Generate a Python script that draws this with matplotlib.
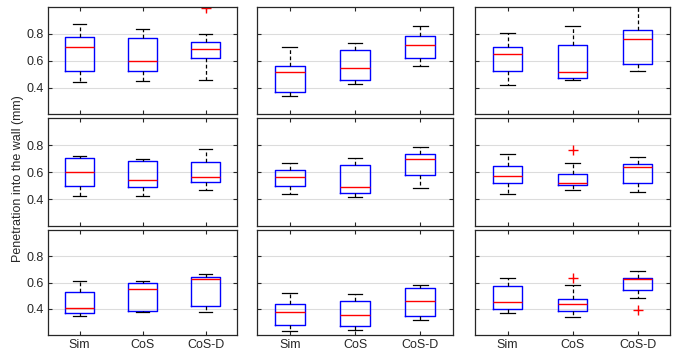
import matplotlib
matplotlib.use('Agg')
import matplotlib.pyplot as plt

plt.rcParams['font.family'] = ['Liberation Sans', 'DejaVu Sans']

groups = ['Sim', 'CoS', 'CoS-D']

# box statistics per panel (row-major): [whislo, q1, med, q3, whishi]
panel_stats = [
    [[0.44, 0.52, 0.70, 0.78, 0.87], [0.45, 0.52, 0.60, 0.77, 0.84], [0.46, 0.62, 0.69, 0.74, 0.80]],
    [[0.34, 0.37, 0.515, 0.56, 0.70], [0.43, 0.46, 0.545, 0.68, 0.735], [0.56, 0.62, 0.72, 0.785, 0.86]],
    [[0.42, 0.525, 0.65, 0.70, 0.805], [0.46, 0.475, 0.515, 0.717, 0.86], [0.525, 0.575, 0.76, 0.83, 1.05]],
    [[0.42, 0.50, 0.60, 0.704, 0.723], [0.42, 0.49, 0.54, 0.684, 0.70], [0.467, 0.53, 0.565, 0.674, 0.773]],
    [[0.44, 0.494, 0.565, 0.617, 0.672], [0.417, 0.447, 0.49, 0.657, 0.709], [0.486, 0.58, 0.70, 0.733, 0.785]],
    [[0.437, 0.518, 0.57, 0.644, 0.738], [0.467, 0.504, 0.518, 0.59, 0.672], [0.454, 0.518, 0.637, 0.664, 0.714]],
    [[0.344, 0.367, 0.408, 0.527, 0.609], [0.375, 0.38, 0.55, 0.60, 0.609], [0.372, 0.423, 0.624, 0.642, 0.662]],
    [[0.23, 0.278, 0.375, 0.438, 0.517], [0.237, 0.265, 0.349, 0.459, 0.51], [0.318, 0.344, 0.456, 0.555, 0.578]],
    [[0.364, 0.397, 0.454, 0.57, 0.637], [0.334, 0.385, 0.433, 0.471, 0.58], [0.479, 0.545, 0.624, 0.637, 0.69]],
]
# outliers per panel, per group
panel_fliers = [
    [[], [], [0.995]],
    [[], [], []],
    [[], [], []],
    [[], [], []],
    [[], [], []],
    [[], [0.768], []],
    [[], [], []],
    [[], [], []],
    [[], [0.632], [0.392]],
]

yticks = [0.4, 0.6, 0.8]

W, H = 680, 358
fig = plt.figure(figsize=(W / 100, H / 100), dpi=100)

col_px = [(48, 237), (257, 453), (475, 670)]
row_px = [(7, 114.5), (118.5, 226), (230, 335)]

edge = '#262626'
for r in range(3):
    for c in range(3):
        x0, x1 = col_px[c]
        y0, y1 = row_px[r]
        ax = fig.add_axes([x0 / W, 1 - y1 / H, (x1 - x0) / W, (y1 - y0) / H])
        k = r * 3 + c
        stats = []
        for g, s in enumerate(panel_stats[k]):
            stats.append(dict(whislo=s[0], q1=s[1], med=s[2], q3=s[3], whishi=s[4],
                              fliers=panel_fliers[k][g], label=groups[g]))
        ax.bxp(stats, positions=[1, 2, 3], widths=0.46, showfliers=True,
               boxprops=dict(color='#0000ff', linewidth=1.0),
               medianprops=dict(color='#ff0000', linewidth=1.0),
               whiskerprops=dict(color='black', linewidth=0.9, linestyle=(0, (3, 2))),
               capprops=dict(color='black', linewidth=0.9),
               capwidths=0.22,
               flierprops=dict(marker='+', markeredgecolor='#ff0000', markersize=7,
                               markeredgewidth=1.0, linestyle='none'))
        ax.set_xlim(0.5, 3.5)
        ax.set_ylim(0.2, 1.0)
        ax.set_yticks(yticks)
        ax.set_xticks([1, 2, 3])
        ax.grid(axis='y', color='#dcdcdc', linewidth=0.8)
        ax.set_axisbelow(True)
        ax.tick_params(direction='in', top=True, right=True, length=3,
                       width=0.8, color=edge, labelsize=9, labelcolor='#262626', pad=3)
        for sp in ax.spines.values():
            sp.set_color(edge)
            sp.set_linewidth(0.9)
        if c == 0:
            ax.set_yticklabels(['0.4', '0.6', '0.8'])
        else:
            ax.set_yticklabels([])
        if r == 2:
            ax.set_xticklabels(groups)
        else:
            ax.set_xticklabels([])

fig.text(18 / W, 0.5, 'Penetration into the wall (mm)', rotation=90,
         ha='center', va='center', fontsize=9, color='#262626')

fig.savefig('out.png', dpi=100)
